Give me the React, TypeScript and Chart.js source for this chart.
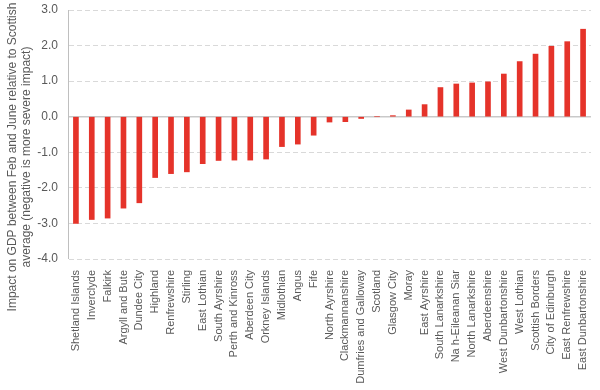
import React, { useEffect, useRef } from "react";
import { Chart, registerables } from "chart.js";

Chart.register(...registerables);

const categories = [
  "Shetland Islands", "Inverclyde", "Falkirk", "Argyll and Bute", "Dundee City",
  "Highland", "Renfrewshire", "Stirling", "East Lothian", "South Ayrshire",
  "Perth and Kinross", "Aberdeen City", "Orkney Islands", "Midlothian", "Angus",
  "Fife", "North Ayrshire", "Clackmannanshire", "Dumfries and Galloway", "Scotland",
  "Glasgow City", "Moray", "East Ayrshire", "South Lanarkshire", "Na h-Eileanan Siar",
  "North Lanarkshire", "Aberdeenshire", "West Dunbartonshire", "West Lothian",
  "Scottish Borders", "City of Edinburgh", "East Renfrewshire", "East Dunbartonshire",
];

const impactValues = [
  -3.0, -2.89, -2.85, -2.57, -2.42,
  -1.71, -1.6, -1.55, -1.32, -1.23,
  -1.22, -1.22, -1.19, -0.84, -0.77,
  -0.52, -0.15, -0.14, -0.05, 0.0,
  0.03, 0.19, 0.34, 0.82, 0.92,
  0.95, 0.98, 1.2, 1.55, 1.76,
  1.98, 2.11, 2.46,
];

const yTitleLines = [
  "Impact on GDP between Feb and June relative to Scottish",
  "average (negative is more severe impact)",
];

const FONT = "'Liberation Sans', Arial, sans-serif";
const TEXT = "#595959";

export default function App() {
  const ref = useRef<HTMLCanvasElement | null>(null);

  useEffect(() => {
    if (!ref.current) return;
    const extras = {
      id: "extras",
      beforeDatasetsDraw(chart: any) {
        const { ctx, chartArea, scales } = chart;
        const y0 = scales.y.getPixelForValue(0);
        ctx.save();
        ctx.strokeStyle = "#c9c9c9";
        ctx.lineWidth = 1.5;
        ctx.beginPath();
        ctx.moveTo(chartArea.left, y0);
        ctx.lineTo(chartArea.right, y0);
        ctx.stroke();
        ctx.strokeStyle = "#bfbfbf";
        ctx.lineWidth = 1;
        ctx.beginPath();
        ctx.moveTo(chartArea.left + 0.5, chartArea.top);
        ctx.lineTo(chartArea.left + 0.5, chartArea.bottom);
        ctx.stroke();
        ctx.restore();
      },
      afterDraw(chart: any) {
        const { ctx } = chart;
        ctx.save();
        ctx.fillStyle = TEXT;
        ctx.font = `12px ${FONT}`;
        ctx.textAlign = "center";
        ctx.textBaseline = "middle";
        ctx.translate(0, 157);
        ctx.rotate(-Math.PI / 2);
        ctx.fillText(yTitleLines[0], 0, 13);
        ctx.fillText(yTitleLines[1], 0, 27);
        ctx.restore();
      },
    };

    const chart = new Chart(ref.current, {
      type: "bar",
      data: {
        labels: categories,
        datasets: [
          {
            data: impactValues,
            backgroundColor: "#e5332a",
            barThickness: 5,
          },
        ],
      },
      options: {
        animation: false,
        responsive: false,
        maintainAspectRatio: false,
        layout: { padding: { top: 10, right: 9, bottom: 0, left: 0 } },
        plugins: {
          legend: { display: false },
          tooltip: { enabled: false },
        },
        scales: {
          x: {
            grid: { display: false },
            border: { display: false },
            ticks: {
              autoSkip: false,
              maxRotation: 90,
              minRotation: 90,
              color: TEXT,
              font: { family: FONT, size: 11 },
              padding: 3,
            },
            afterFit(scale: any) {
              scale.height = 131;
              scale.paddingLeft = 0;
              scale.paddingRight = 0;
            },
          },
          y: {
            min: -4,
            max: 3,
            ticks: {
              stepSize: 1,
              color: TEXT,
              font: { family: FONT, size: 12 },
              padding: 10,
              callback: (v: any) => Number(v).toFixed(1),
            },
            grid: {
              drawTicks: false,
              color: (c: any) => (c.tick && c.tick.value === 0 ? "rgba(0,0,0,0)" : "#d9d9d9"),
              lineWidth: 1,
            },
            border: { display: true, color: "rgba(0,0,0,0)", width: 1, dash: [5, 3] },
            afterFit(scale: any) {
              scale.width = 68;
              scale.paddingTop = 0;
              scale.paddingBottom = 0;
            },
          },
        },
      },
      plugins: [extras],
    } as any);
    return () => chart.destroy();
  }, []);

  return (
    <div style={{ position: "fixed", left: 0, top: 0, width: 600, height: 390, background: "#fff" }}>
      <canvas ref={ref} width={600} height={390} style={{ width: 600, height: 390 }} />
    </div>
  );
}
